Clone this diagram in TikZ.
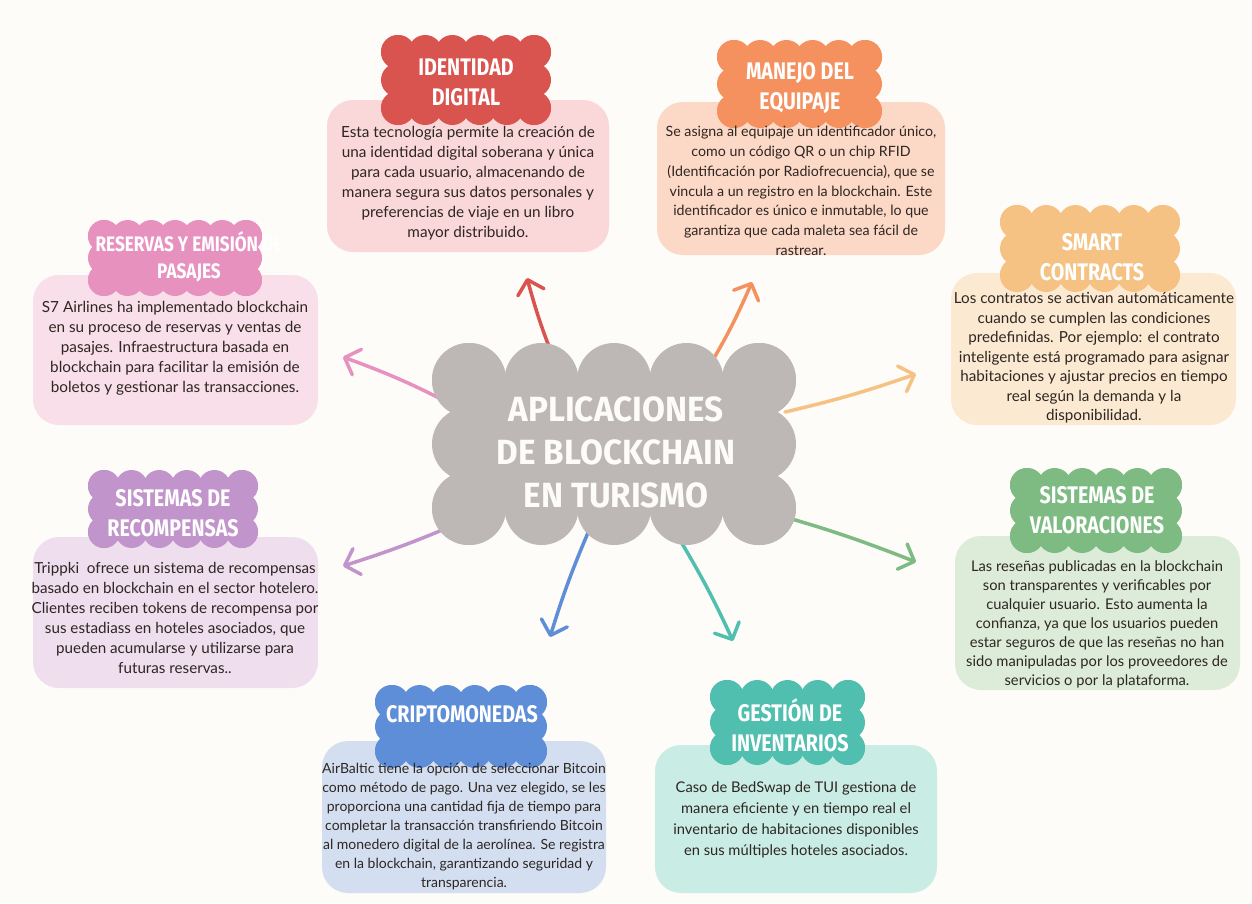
\documentclass[tikz,border=0pt]{standalone}
\usepackage{fontspec}
\setmainfont{Lato}
\newfontfamily\titlefont{Fira Sans}[FakeStretch=0.82]
\newfontfamily\headfont{Fira Sans}[FakeStretch=0.95]
\usetikzlibrary{arrows.meta}

\definecolor{bgc}{HTML}{FDFCF8}
\definecolor{bodyc}{HTML}{2E2622}
\definecolor{hubc}{HTML}{BDB8B5}
% cloud / arrow colours
\definecolor{redc}{HTML}{D9534F}
\definecolor{orac}{HTML}{F4915F}
\definecolor{pinc}{HTML}{E791BF}
\definecolor{yelc}{HTML}{F6C283}
\definecolor{purc}{HTML}{C194CC}
\definecolor{grec}{HTML}{7DBB82}
\definecolor{bluc}{HTML}{5E8ED7}
\definecolor{teac}{HTML}{50BFAF}
% pale box fills
\definecolor{redl}{HTML}{FAD8D9}
\definecolor{oral}{HTML}{FCD8C6}
\definecolor{pinl}{HTML}{F8DFEA}
\definecolor{yell}{HTML}{FCE9D2}
\definecolor{purl}{HTML}{EEDEEE}
\definecolor{grel}{HTML}{DCECD9}
\definecolor{blul}{HTML}{D3DFF0}
\definecolor{teal}{HTML}{C9ECE4}

% scalloped cloud: fill colour, x1, y1, x2, y2, bump radius, bump spacing factor
\newcommand{\cloudfill}[7]{%
  \pgfmathsetmacro\scxa{#2+#6}%
  \pgfmathsetmacro\scxb{#4-#6}%
  \pgfmathsetmacro\scya{#3+#6}%
  \pgfmathsetmacro\scyb{#5-#6}%
  \pgfmathtruncatemacro\scnx{max(1,round((\scxb-\scxa)/(#7*#6)))}%
  \pgfmathtruncatemacro\scny{max(1,round((\scyb-\scya)/(#7*#6)))}%
  \fill[#1] (\scxa,\scya) rectangle (\scxb,\scyb);
  \foreach \k in {0,...,\scnx}{%
    \pgfmathsetmacro\scx{\scxa+(\scxb-\scxa)*\k/\scnx}%
    \fill[#1] (\scx,\scya) circle[radius=#6pt] (\scx,\scyb) circle[radius=#6pt];}
  \foreach \k in {0,...,\scny}{%
    \pgfmathsetmacro\scy{\scya+(\scyb-\scya)*\k/\scny}%
    \fill[#1] (\scxa,\scy) circle[radius=#6pt] (\scxb,\scy) circle[radius=#6pt];}
}

\tikzset{
  card/.style={rounded corners=26pt, inner sep=0pt},
  body/.style={text=bodyc, align=center, inner sep=0pt},
  ttl/.style={text=white, align=center, inner sep=0pt,
    font=\titlefont\bfseries\fontsize{24}{30}\selectfont},
  hub/.style={text=bgc, align=center, inner sep=0pt,
    font=\headfont\bfseries\fontsize{35}{43}\selectfont},
  link/.style={line width=3.5pt, line cap=round,
    -{Straight Barb[length=13pt,width=27pt,round]}},
}

\begin{document}
\begin{tikzpicture}[x=1pt,y=-1pt]
\fill[bgc] (0,0) rectangle (1252,903);
\useasboundingbox (0,0) rectangle (1252,903);

% arrow end points
\coordinate (s1) at (562,378); \coordinate (e1) at (527,278);
\coordinate (s2) at (702,378); \coordinate (e2) at (752,282);
\coordinate (s3) at (462,410); \coordinate (e3) at (343,357);
\coordinate (s4) at (785,412); \coordinate (e4) at (916,374);
\coordinate (s5) at (470,518); \coordinate (e5) at (343,566);
\coordinate (s6) at (760,510); \coordinate (e6) at (916,562);
\coordinate (s7) at (590,528); \coordinate (e7) at (550,637);
\coordinate (s8) at (680,540); \coordinate (e8) at (733,641);

\draw[link, redc] (s1) to[bend left=4] (e1);
\draw[link, orac] (s2) to[bend right=4] (e2);
\draw[link, pinc] (s3) to[bend right=4] (e3);
\draw[link, yelc] (s4) to[bend right=3] (e4);
\draw[link, purc] (s5) to[bend left=3] (e5);
\draw[link, grec] (s6) to[bend left=3] (e6);
\draw[link, bluc] (s7) to[bend right=3] (e7);
\draw[link, teac] (s8) to[bend left=3] (e8);

% central topic
\cloudfill{hubc}{432}{343}{796}{545}{37}{1.75}
\node[hub] (hub) at (616,452) {APLICACIONES\\DE BLOCKCHAIN\\EN TURISMO};

% cards
\node[card, fill=redl, minimum width=282pt, minimum height=152pt] (c1) at (468,176) {};
\node[card, fill=oral, minimum width=288pt, minimum height=153pt] (c2) at (801,178.5) {};
\node[card, fill=pinl, minimum width=285pt, minimum height=150pt] (c3) at (175.5,350) {};
\node[card, fill=yell, minimum width=285pt, minimum height=152pt] (c4) at (1093.5,349) {};
\node[card, fill=purl, minimum width=285pt, minimum height=151pt] (c5) at (175.5,612.5) {};
\node[card, fill=grel, minimum width=285pt, minimum height=154pt] (c6) at (1097.5,613) {};
\node[card, fill=blul, minimum width=284pt, minimum height=152pt] (c7) at (464,817) {};
\node[card, fill=teal, minimum width=282pt, minimum height=148pt] (c8) at (796,819) {};

% title clouds
\cloudfill{redc}{381}{35}{551}{125}{17}{1.6}
\cloudfill{orac}{717}{40}{882}{128}{17}{1.6}
\cloudfill{pinc}{88}{220}{262}{296}{16}{1.6}
\cloudfill{yelc}{1000}{205}{1180}{292}{17}{1.6}
\cloudfill{purc}{88}{470}{258}{548}{16}{1.6}
\cloudfill{grec}{1010}{468}{1182}{553}{17}{1.6}
\cloudfill{bluc}{375}{685}{547}{768}{17}{1.6}
\cloudfill{teac}{710}{680}{865}{765}{17}{1.6}

\node[ttl] (t1) at (466,82) {IDENTIDAD\\DIGITAL};
\node[ttl] (t2) at (800,88) {MANEJO DEL\\EQUIPAJE};
\node[ttl, font=\titlefont\bfseries\fontsize{21}{27}\selectfont] (t3) at (189,257) {RESERVAS Y EMISIÓN DE\\PASAJES};
\node[ttl] (t4) at (1092,257) {SMART\\CONTRACTS};
\node[ttl] (t5) at (173,513) {SISTEMAS DE\\RECOMPENSAS};
\node[ttl] (t6) at (1097,510) {SISTEMAS DE\\VALORACIONES};
\node[ttl] (t7) at (462,714) {CRIPTOMONEDAS};
\node[ttl] (t8) at (790,725) {GESTIÓN DE\\INVENTARIOS};

% card texts
\node[body, font=\fontsize{15.3}{20}\selectfont] (b1) at (468,183)
  {Esta tecnología permite la creación de\\una identidad digital soberana y única\\para cada usuario, almacenando de\\manera segura sus datos personales y\\preferencias de viaje en un libro\\mayor distribuido.};
\node[body, font=\fontsize{14.2}{19.8}\selectfont] (b2) at (801,191)
  {Se asigna al equipaje un identificador único,\\como un código QR o un chip RFID\\(Identificación por Radiofrecuencia), que se\\vincula a un registro en la blockchain. Este\\identificador es único e inmutable, lo que\\garantiza que cada maleta sea fácil de\\rastrear.};
\node[body, font=\fontsize{15.3}{20}\selectfont] (b3) at (175,348)
  {S7 Airlines ha implementado blockchain\\en su proceso de reservas y ventas de\\pasajes. Infraestructura basada en\\blockchain para facilitar la emisión de\\boletos y gestionar las transacciones.};
\node[body, font=\fontsize{15.2}{19.5}\selectfont] (b4) at (1094,358)
  {Los contratos se activan automáticamente\\cuando se cumplen las condiciones\\predefinidas. Por ejemplo: el contrato\\inteligente está programado para asignar\\habitaciones y ajustar precios en tiempo\\real según la demanda y la\\disponibilidad.};
\node[body, font=\fontsize{15.2}{20}\selectfont] (b5) at (175,618)
  {Trippki\ \ ofrece un sistema de recompensas\\basado en blockchain en el sector hotelero.\\Clientes reciben tokens de recompensa por\\sus estadiass en hoteles asociados, que\\pueden acumularse y utilizarse para\\futuras reservas..};
\node[body, font=\fontsize{14.7}{19}\selectfont] (b6) at (1097,624)
  {Las reseñas publicadas en la blockchain\\son transparentes y verificables por\\cualquier usuario. Esto aumenta la\\confianza, ya que los usuarios pueden\\estar seguros de que las reseñas no han\\sido manipuladas por los proveedores de\\servicios o por la plataforma.};
\node[body, font=\fontsize{14}{19}\selectfont] (b7) at (464,827)
  {AirBaltic tiene la opción de seleccionar Bitcoin\\como método de pago. Una vez elegido, se les\\proporciona una cantidad fija de tiempo para\\completar la transacción transfiriendo Bitcoin\\al monedero digital de la aerolínea. Se registra\\en la blockchain, garantizando seguridad y\\transparencia.};
\node[body, font=\fontsize{14.7}{21}\selectfont] (b8) at (796,820)
  {Caso de BedSwap de TUI gestiona de\\manera eficiente y en tiempo real el\\inventario de habitaciones disponibles\\en sus múltiples hoteles asociados.};
\end{tikzpicture}
\end{document}
